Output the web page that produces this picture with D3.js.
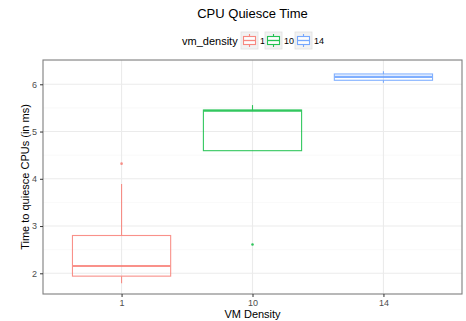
<!DOCTYPE html>
<html><head><meta charset="utf-8">
<script src="https://cdn.jsdelivr.net/npm/d3@7"></script>
<style>body{margin:0;background:#fff;} text{font-family:"Liberation Sans",Arial,sans-serif;}</style>
</head><body><svg id="c" width="466" height="321"></svg>
<script>
const categories = ["1", "10", "14"];
const colors = ["#F8766D", "#00BA38", "#619CFF"];
const lowerWhisker = [1.79, 4.595, 6.03];
const q1 = [1.94, 4.595, 6.085];
const median = [2.155, 5.44, 6.155];
const q3 = [2.80, 5.455, 6.218];
const upperWhisker = [3.89, 5.56, 6.275];
const outliers = [[4.32], [2.61], []];
const yTicks = [2, 3, 4, 5, 6];
const yMinor = [1.5, 2.5, 3.5, 4.5, 5.5, 6.5];

const svg = d3.select("#c");
const L = 43, R = 462, T = 60, B = 294;
const x = d3.scalePoint().domain(categories).range([L, R]).padding(0.6);
const y = d3.scaleLinear().domain([1.562, 6.514]).range([B, T]);
const bw = x.step() * 0.75;

// grid
const g = svg.append("g");
g.selectAll(".mn").data(yMinor.filter(v => y(v) > T && y(v) < B)).enter().append("line")
  .attr("x1", L).attr("x2", R).attr("y1", d => y(d)).attr("y2", d => y(d))
  .attr("stroke", "#F5F5F5").attr("stroke-width", 0.6);
g.selectAll(".mj").data(yTicks).enter().append("line")
  .attr("x1", L).attr("x2", R).attr("y1", d => y(d)).attr("y2", d => y(d))
  .attr("stroke", "#EBEBEB").attr("stroke-width", 1.1);
g.selectAll(".vx").data(categories).enter().append("line")
  .attr("y1", T).attr("y2", B).attr("x1", d => x(d)).attr("x2", d => x(d))
  .attr("stroke", "#EBEBEB").attr("stroke-width", 1.1);

// boxes
categories.forEach((c, i) => {
  const cx = x(c), col = colors[i];
  const gb = svg.append("g").attr("opacity", 0.8);
  gb.append("line").attr("x1", cx).attr("x2", cx).attr("y1", y(q3[i])).attr("y2", y(upperWhisker[i]))
    .attr("stroke", col).attr("stroke-width", 1.1);
  gb.append("line").attr("x1", cx).attr("x2", cx).attr("y1", y(q1[i])).attr("y2", y(lowerWhisker[i]))
    .attr("stroke", col).attr("stroke-width", 1.1);
  gb.append("rect").attr("x", cx - bw / 2).attr("width", bw)
    .attr("y", y(q3[i])).attr("height", Math.max(0.1, y(q1[i]) - y(q3[i])))
    .attr("fill", "none").attr("stroke", col).attr("stroke-width", 1.1);
  gb.append("line").attr("x1", cx - bw / 2).attr("x2", cx + bw / 2).attr("y1", y(median[i])).attr("y2", y(median[i]))
    .attr("stroke", col).attr("stroke-width", 2.2);
  outliers[i].forEach(v => {
    gb.append("circle").attr("cx", cx).attr("cy", y(v)).attr("r", 1.3).attr("fill", col);
  });
});

// border
svg.append("rect").attr("x", L).attr("y", T).attr("width", R - L).attr("height", B - T)
  .attr("fill", "none").attr("stroke", "#7F7F7F").attr("stroke-width", 1.1);

// axes
const ya = svg.append("g").attr("transform", `translate(${L},0)`)
  .call(d3.axisLeft(y).tickValues(yTicks).tickSize(3).tickPadding(3).tickFormat(d3.format("d")));
ya.select(".domain").remove();
ya.selectAll("line").attr("stroke", "#333").attr("stroke-width", 1);
ya.selectAll("text").attr("fill", "#4D4D4D").style("font-size", "9px");
const xa = svg.append("g").attr("transform", `translate(0,${B})`)
  .call(d3.axisBottom(x).tickSize(3).tickPadding(3));
xa.select(".domain").remove();
xa.selectAll("line").attr("stroke", "#333").attr("stroke-width", 1);
xa.selectAll("text").attr("fill", "#4D4D4D").style("font-size", "9px");

// titles
svg.append("text").attr("x", (L + R) / 2).attr("y", 18).attr("text-anchor", "middle")
  .style("font-size", "13px").attr("fill", "#000").text("CPU Quiesce Time");
svg.append("text").attr("x", (L + R) / 2).attr("y", 318).attr("text-anchor", "middle")
  .style("font-size", "11px").attr("fill", "#000").text("VM Density");
svg.append("text").attr("transform", `translate(29,${(T + B) / 2}) rotate(-90)`).attr("text-anchor", "middle")
  .style("font-size", "11px").attr("fill", "#000").text("Time to quiesce CPUs (in ms)");

// legend
const lg = svg.append("g");
lg.append("text").attr("x", 182).attr("y", 45).style("font-size", "11px").attr("fill", "#000").text("vm_density");
const keyX = [241, 265, 295];
categories.forEach((c, i) => {
  const kx = keyX[i], ky = 32, ks = 17;
  lg.append("rect").attr("x", kx).attr("y", ky).attr("width", ks).attr("height", ks)
    .attr("fill", "#F2F2F2").attr("stroke", "#E0E0E0").attr("stroke-width", 0.8);
  const kg = lg.append("g").attr("opacity", 0.85);
  kg.append("line").attr("x1", kx + ks / 2).attr("x2", kx + ks / 2).attr("y1", ky + 2).attr("y2", ky + ks - 2)
    .attr("stroke", colors[i]).attr("stroke-width", 1.1);
  kg.append("rect").attr("x", kx + 2.5).attr("y", ky + 4.5).attr("width", ks - 5).attr("height", ks - 9)
    .attr("fill", "#fff").attr("stroke", colors[i]).attr("stroke-width", 1.1);
  kg.append("line").attr("x1", kx + 2.5).attr("x2", kx + ks - 2.5).attr("y1", ky + ks / 2).attr("y2", ky + ks / 2)
    .attr("stroke", colors[i]).attr("stroke-width", 1.3);
  lg.append("text").attr("x", kx + ks + 2).attr("y", ky + 12).style("font-size", "9px").attr("fill", "#000").text(c);
});
</script></body></html>
